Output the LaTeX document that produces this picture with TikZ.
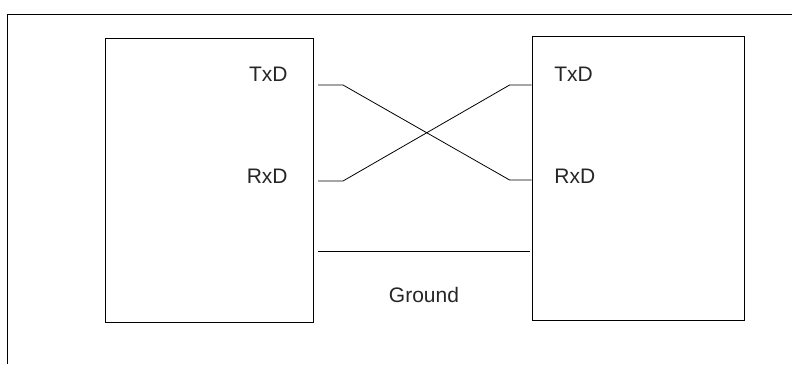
\documentclass[tikz,border=0pt]{standalone}
\usepackage{fontspec}
\setmainfont{Liberation Sans}
\usetikzlibrary{calc}
\begin{document}
\begin{tikzpicture}[x=1pt,y=-1pt,
  line width=0.8pt,
  unit/.style={draw, line width=0.8pt, inner sep=0pt},
  pin/.style={font=\fontsize{21}{24}\selectfont, inner sep=0pt, text=black!85},
  wire/.style={draw, line width=0.8pt}]
  \useasboundingbox (0,0) rectangle (792,364);

  % outer frame (top and left edges)
  \draw (7,364) -- (7,14) -- (792,14);

  % the two units
  \node[unit, minimum width=208pt, minimum height=284pt] (dteA) at (209,180) {};
  \node[unit, minimum width=212pt, minimum height=284pt] (dteB) at (638,178) {};

  % pin labels
  \node[pin, anchor=east] (txA) at (288,74) {TxD};
  \node[pin, anchor=east] (rxA) at (288,176) {RxD};
  \node[pin, anchor=west] (txB) at (554,74) {TxD};
  \node[pin, anchor=west] (rxB) at (554,176) {RxD};

  % wire end points
  \coordinate (a1) at (318,85);
  \coordinate (a2) at (318,181);
  \coordinate (b1) at (dteB.west |- 0,85);
  \coordinate (b2) at (dteB.west |- 0,180);
  \coordinate (g1) at (318,251);
  \coordinate (g2) at (530,251);

  % crossed data lines
  \draw[wire] (a1) -- ++(25,0) -- ($(b2)+(-22,0)$) -- (b2);
  \draw[wire] (a2) -- ++(25,0) -- ($(b1)+(-22,0)$) -- (b1);

  % ground line
  \draw[wire] (g1) -- (g2);
  \node[pin] (gnd) at (424,295) {Ground};
\end{tikzpicture}
\end{document}
